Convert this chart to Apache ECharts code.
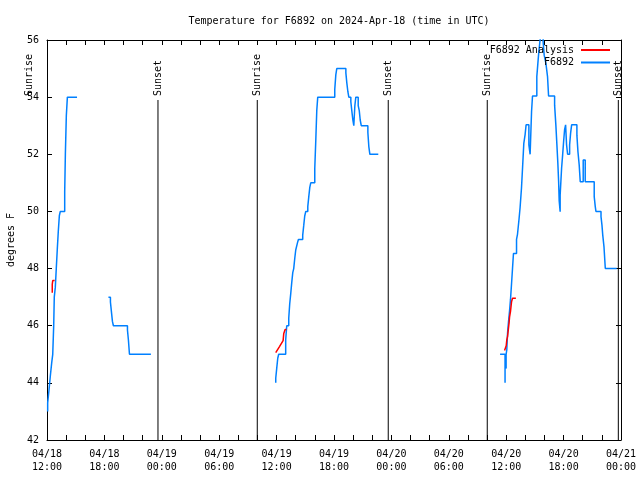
<!DOCTYPE html>
<html>
<head>
<meta charset="utf-8">
<script src="https://cdn.jsdelivr.net/npm/echarts@6/dist/echarts.min.js"></script>
<style>html,body{margin:0;padding:0;background:#fff}#c{width:640px;height:480px}</style>
</head>
<body>
<div id="c"></div>
<script>
// x values: hours since 2024-04-18 12:00 UTC
const tickLabels = ['04/18\n12:00','04/18\n18:00','04/19\n00:00','04/19\n06:00','04/19\n12:00','04/19\n18:00','04/20\n00:00','04/20\n06:00','04/20\n12:00','04/20\n18:00','04/21\n00:00'];
const yTicks = [42, 44, 46, 48, 50, 52, 54, 56];

const sunEventHours = [-1.85, 11.6, 21.98, 35.67, 46.02, 59.72];
const sunEventLabels = ['Sunrise', 'Sunset', 'Sunrise', 'Sunset', 'Sunrise', 'Sunset'];

const obsSeg1 = [[0.07,43.0],[0.07,43.3],[0.21,43.75],[0.35,44.25],[0.49,44.7],[0.6,45.0],[0.7,46.0],[0.76,47.0],[0.87,47.35],[0.97,48.0],[1.08,48.7],[1.18,49.3],[1.29,49.85],[1.39,50.0],[1.85,50.7],[1.92,52.0],[2.02,53.35],[2.13,54.0],[3.14,54.0]];
const obsSeg2 = [[6.42,47.0],[6.63,46.83],[6.73,46.5],[6.84,46.15],[6.94,46.0],[8.41,45.85],[8.51,45.5],[8.62,45.0],[10.86,45.0]];
const obsSeg3 = [[23.91,44.0],[23.91,44.16],[24.01,44.5],[24.12,44.86],[24.22,45.0],[24.95,45.5],[25.06,46.0],[25.27,46.26],[25.37,46.76],[25.48,47.13],[25.58,47.5],[25.69,47.86],[25.79,48.0],[25.9,48.36],[26.0,48.65],[26.18,48.9],[26.28,49.02],[26.73,49.17],[26.84,49.52],[26.94,49.84],[27.05,50.0],[27.26,50.17],[27.36,50.5],[27.47,50.84],[27.57,51.0],[27.99,51.5],[28.1,52.52],[28.2,53.53],[28.3,54.0],[30.08,54.27],[30.19,54.78],[30.29,55.0],[31.24,54.85],[31.34,54.5],[31.45,54.19],[31.55,54.0],[31.76,53.84],[31.86,53.53],[31.97,53.2],[32.07,53.0],[32.18,53.7],[32.28,54.0],[32.53,53.7],[32.64,53.53],[32.74,53.2],[32.85,53.0],[33.54,52.76],[33.64,52.27],[33.75,52.0],[34.63,52.0]];
const obsSeg4 = [[47.36,45.0],[47.88,44.0],[47.88,45.0],[47.99,44.5],[47.99,45.0],[48.06,45.15],[48.14,45.73],[48.24,46.14],[48.35,46.52],[48.45,46.92],[48.56,47.48],[48.66,48.0],[48.76,48.53],[49.08,49.02],[49.18,49.2],[49.35,49.76],[49.45,50.13],[49.6,50.83],[49.71,51.53],[49.84,52.38],[49.98,52.7],[50.08,53.03],[50.37,52.33],[50.5,52.0],[50.65,53.49],[50.75,54.04],[51.2,54.72],[51.31,55.18],[51.41,55.59],[51.52,55.94],[51.62,56.2],[51.86,55.94],[51.97,55.47],[52.15,55.18],[52.32,54.72],[52.43,54.04],[53.06,53.72],[53.19,53.03],[53.3,52.33],[53.4,51.68],[53.48,51.04],[53.54,50.37],[53.64,49.99],[53.64,50.58],[53.79,51.51],[53.9,51.98],[54.0,52.44],[54.1,52.85],[54.21,53.03],[54.31,52.33],[54.42,52.0],[54.63,52.33],[54.73,52.73],[54.84,53.03],[55.39,52.67],[55.5,52.09],[55.63,51.63],[55.74,51.04],[56.05,51.8],[56.26,51.04],[57.2,50.52],[57.31,50.17],[57.38,50.0],[57.91,49.82],[58.01,49.52],[58.09,49.18],[58.22,48.77],[58.36,48.0],[59.55,48.0]];

const anaSeg1 = [[0.55,47.15],[0.55,47.45],[0.6,47.58],[0.8,47.58]];
const anaSeg2 = [[23.91,45.06],[24.3,45.27],[24.68,45.48],[24.75,45.73],[24.89,45.87],[25.03,45.87]];
const anaSeg3 = [[47.83,45.13],[47.99,45.13],[48.0,45.3],[48.06,45.5],[48.14,45.62],[48.3,46.1],[48.35,46.3],[48.45,46.5],[48.56,46.84],[48.66,46.96],[49.01,46.96]];

const FONT = '"DejaVu Sans Mono", "Liberation Mono", monospace';
const BLUE = '#0080ff';
const RED = '#ff0000';

function obsSeries(data) {
  return { name: 'F6892', type: 'line', data: data, step: 'end', showSymbol: false, symbol: 'none',
    lineStyle: { color: BLUE, width: 1.5 }, itemStyle: { color: BLUE }, z: 3 };
}
function anaSeries(data) {
  return { name: 'F6892 Analysis', type: 'line', data: data, showSymbol: false, symbol: 'none',
    lineStyle: { color: RED, width: 1.5 }, itemStyle: { color: RED }, z: 4 };
}

const xMin = 0, xMax = 60;
const axisCommon = {
  axisLine: { show: true, onZero: false, lineStyle: { color: '#000', width: 1 } },
  axisTick: { show: true, inside: true, length: 5, lineStyle: { color: '#000', width: 1 } },
  splitLine: { show: false }
};

const chart = echarts.init(document.getElementById('c'), null, { renderer: 'canvas' });
chart.setOption({
  animation: false,
  backgroundColor: '#fff',
  title: { text: 'Temperature for F6892 on 2024-Apr-18 (time in UTC)', left: 334, textAlign: 'center', top: 11,
    textStyle: { fontFamily: FONT, fontSize: 10, fontWeight: 'normal', color: '#000' } },
  legend: {
    data: ['F6892 Analysis', 'F6892'], orient: 'vertical', right: 25, top: 39, align: 'right',
    itemWidth: 29, itemHeight: 2, itemGap: 0.5, icon: 'rect', selectedMode: false,
    formatter: n => n.padStart(14, ' '),
    textStyle: { fontFamily: FONT, fontSize: 10, color: '#000', lineHeight: 12, padding: [0, 2, 0, 0] }
  },
  grid: { left: 47, right: 19, top: 40, bottom: 40, containLabel: false, outerBoundsMode: 'none' },
  xAxis: [
    Object.assign({ type: 'value', min: xMin, max: xMax, interval: 2, position: 'bottom',
      axisLabel: { show: true, margin: 8, color: '#000', fontFamily: FONT, fontSize: 10, lineHeight: 13,
        formatter: v => (v % 6 === 0 ? tickLabels[v / 6] : '') } }, axisCommon),
    Object.assign({ type: 'value', min: xMin, max: xMax, interval: 2, position: 'top',
      axisLabel: { show: false } }, axisCommon)
  ],
  yAxis: [
    Object.assign({ type: 'value', min: yTicks[0], max: yTicks[yTicks.length - 1], interval: 2, position: 'left',
      name: 'degrees F', nameLocation: 'middle', nameGap: 31, nameRotate: 90,
      nameTextStyle: { fontFamily: FONT, fontSize: 10, color: '#000' },
      axisLabel: { show: true, margin: 8, color: '#000', fontFamily: FONT, fontSize: 10 } }, axisCommon),
    Object.assign({ type: 'value', min: yTicks[0], max: yTicks[yTicks.length - 1], interval: 2, position: 'right',
      axisLabel: { show: false } }, axisCommon)
  ],
  series: [
    {
      type: 'custom', name: 'sun', silent: true, clip: false, z: 2,
      data: sunEventHours.map((h, i) => [h, 42, i]),
      renderItem: function (params, api) {
        const h = api.value(0);
        const idx = api.value(2);
        const top = api.coord([h, 53.9]);
        const bot = api.coord([h, 42]);
        const children = [];
        if (h >= xMin && h <= xMax) {
          children.push({ type: 'line', shape: { x1: top[0], y1: top[1], x2: bot[0], y2: bot[1] },
            style: { stroke: '#000', lineWidth: 1 } });
        }
        children.push({ type: 'text', x: top[0], y: top[1] - 4, rotation: Math.PI / 2,
          style: { text: sunEventLabels[idx], fill: '#000', font: '10px ' + FONT, align: 'left', verticalAlign: 'middle' } });
        return { type: 'group', children: children };
      }
    },
    obsSeries(obsSeg1), obsSeries(obsSeg2), obsSeries(obsSeg3), obsSeries(obsSeg4),
    anaSeries(anaSeg1), anaSeries(anaSeg2), anaSeries(anaSeg3)
  ]
});
</script>
</body>
</html>
